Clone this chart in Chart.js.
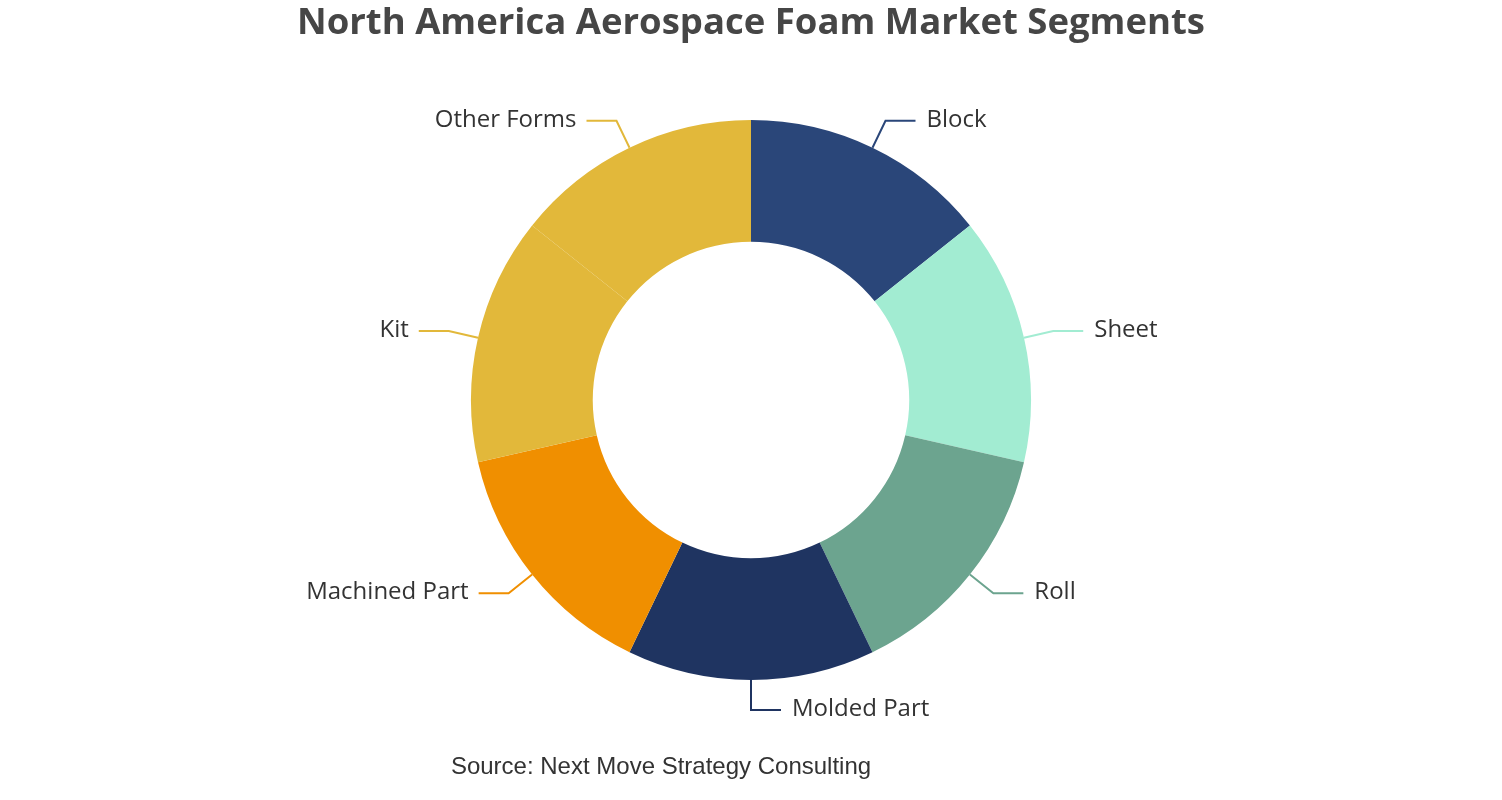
<!DOCTYPE html>
<html>
<head>
<meta charset="utf-8">
<script src="https://cdn.jsdelivr.net/npm/chart.js@4"></script>
<style>
  html, body { margin: 0; padding: 0; background: #fff; }
  #wrap { width: 1502px; height: 800px; }
</style>
</head>
<body>
<div id="wrap"><canvas id="chart" width="1502" height="800"></canvas></div>
<script>
const segments = ['Block', 'Sheet', 'Roll', 'Molded Part', 'Machined Part', 'Kit', 'Other Forms'];
const shares = [1, 1, 1, 1, 1, 1, 1];
const segmentColors = ['#2a4679', '#a2ecd2', '#6ca48f', '#1f3461', '#f08f00', '#e2b83a', '#e2b83a'];
const chartTitle = 'North America Aerospace Foam Market Segments';
const sourceNote = 'Source: Next Move Strategy Consulting';

const labelFont = '24px "Open Sans", "Noto Sans", sans-serif';

// leader lines + outside labels, placed from each arc's own geometry
const outsideLabels = {
    id: 'outsideLabels',
    afterDatasetsDraw(chart) {
        const c = chart.ctx;
        const arcs = chart.getDatasetMeta(0).data;
        c.save();
        c.font = labelFont;
        c.textBaseline = 'middle';
        arcs.forEach((arc, i) => {
            const p = arc.getProps(['x', 'y', 'startAngle', 'endAngle', 'outerRadius'], true);
            const mid = (p.startAngle + p.endAngle) / 2;
            const cos = Math.cos(mid), sin = Math.sin(mid);
            const right = cos >= 0;
            const x1 = p.x + p.outerRadius * cos, y1 = p.y + p.outerRadius * sin;
            const x2 = p.x + (p.outerRadius + 30) * cos, y2 = p.y + (p.outerRadius + 30) * sin;
            const x3 = x2 + (right ? 30 : -30);
            c.strokeStyle = segmentColors[i];
            c.lineWidth = 2;
            c.beginPath();
            c.moveTo(x1, y1);
            c.lineTo(x2, y2);
            c.lineTo(x3, y2);
            c.stroke();
            c.fillStyle = '#333333';
            c.textAlign = right ? 'left' : 'right';
            c.fillText(segments[i], x3 + (right ? 11 : -10), y2 - 1);
        });
        c.restore();
    }
};

const sourceText = {
    id: 'sourceText',
    afterDraw(chart) {
        const c = chart.ctx;
        c.save();
        c.font = '24px "Liberation Sans", Arial, sans-serif';
        c.fillStyle = '#333333';
        c.textAlign = 'center';
        c.textBaseline = 'middle';
        c.fillText(sourceNote, 661, 767);
        c.restore();
    }
};

new Chart(document.getElementById('chart'), {
    type: 'doughnut',
    data: {
        labels: segments,
        datasets: [{
            data: shares,
            backgroundColor: segmentColors,
            borderWidth: 0
        }]
    },
    options: {
        responsive: false,
        animation: false,
        cutout: '56.5%',
        layout: { padding: { bottom: 120 } },
        plugins: {
            legend: { display: false },
            tooltip: { enabled: false },
            title: {
                display: true,
                text: chartTitle,
                color: '#464646',
                font: { family: '"Open Sans", "Noto Sans", sans-serif', size: 36.5, weight: 'bold', lineHeight: 1.2 },
                padding: { top: 2, bottom: 74.2 }
            }
        }
    },
    plugins: [outsideLabels, sourceText]
});
</script>
</body>
</html>
